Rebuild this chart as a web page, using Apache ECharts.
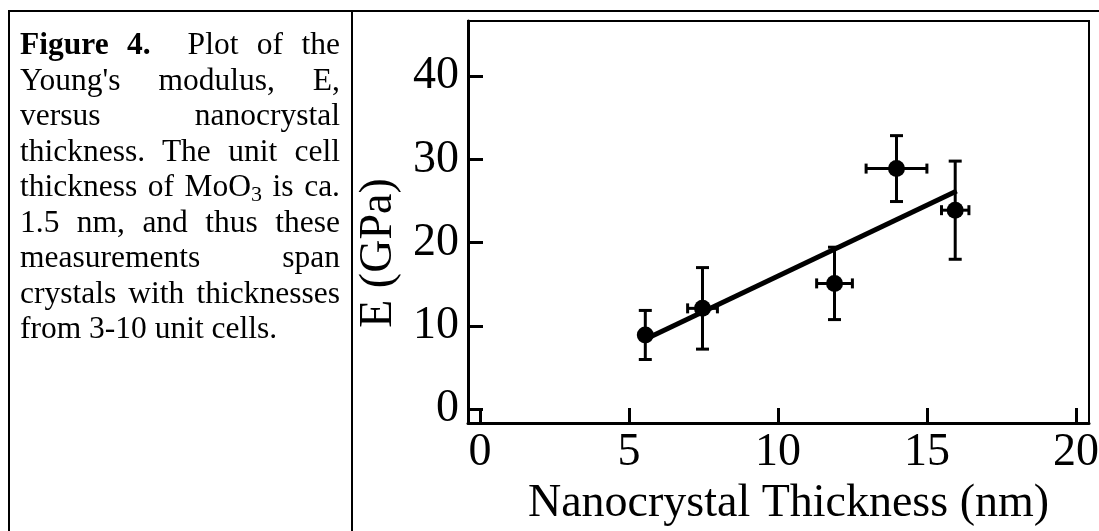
<!DOCTYPE html>
<html>
<head>
<meta charset="utf-8">
<script src="https://cdn.jsdelivr.net/npm/echarts@6/dist/echarts.min.js"></script>
<style>
  html, body { margin:0; padding:0; background:#fff; }
  #chart { position:absolute; left:0; top:0; width:1099px; height:531px; }
  #caption {
    position:absolute; left:8px; top:10px; width:320px; height:509px;
    padding:14px 11px 0 10px;
    border-left:2px solid #000; border-top:2px solid #000; border-right:2px solid #000;
    font-family:"Liberation Serif", "Times New Roman", serif; font-size:31.5px; line-height:35.5px; color:#000;
    background:transparent;
  }
  #caption .ln { text-align:justify; text-align-last:justify; white-space:nowrap; }
  #caption .last { text-align:left; text-align-last:left; white-space:nowrap; }
  #topline { position:absolute; left:352px; top:10px; width:747px; height:2px; background:#000; }
</style>
</head>
<body>
<div id="chart"></div>
<div id="caption">
  <div class="ln"><b>Figure 4.</b>&nbsp; Plot of the</div>
  <div class="ln">Young's modulus, E,</div>
  <div class="ln">versus nanocrystal</div>
  <div class="ln">thickness. The unit cell</div>
  <div class="ln">thickness of MoO<sub style="font-size:22px;line-height:0;vertical-align:-5px;">3</sub> is ca.</div>
  <div class="ln">1.5 nm, and thus these</div>
  <div class="ln">measurements span</div>
  <div class="ln">crystals with thicknesses</div>
  <div class="last">from 3-10 unit cells.</div>
</div>
<div id="topline"></div>
<script>
// ---- data ----
const thickness    = [5.55, 7.47, 11.9, 13.98, 15.95];   // nm
const modulus      = [8.9, 12.1, 15.1, 28.9, 23.9];      // GPa
const modulusErr   = [2.95, 4.9, 4.35, 3.96, 5.9];       // GPa (±)
const thicknessErr = [0, 0.5, 0.6, 1.02, 0.46];          // nm (±)
const fitX = [5.55, 16.0];
const fitY = [8.4, 26.2];
const xTicks = [0, 5, 10, 15, 20];
const yTicks = [0, 10, 20, 30, 40];
const xName = 'Nanocrystal Thickness (nm)';
const yName = 'E (GPa)';

const FONT = '"Liberation Serif", "Times New Roman", serif';
const chart = echarts.init(document.getElementById('chart'), null, {renderer: 'canvas'});

const errData = thickness.map((x, i) => [x, modulus[i], modulusErr[i], thicknessErr[i]]);

const option = {
  backgroundColor: '#fff',
  animation: false,
  grid: {
    left: 468, right: 10, top: 21, bottom: 108,
    show: true, borderColor: '#000', borderWidth: 2,
    outerBoundsMode: 'none'
  },
  xAxis: {
    type: 'value', min: -0.4, max: 20.44,
    name: xName, nameLocation: 'middle', nameGap: 55,
    nameTextStyle: { fontFamily: FONT, fontSize: 46, color: '#000', padding: [0, 0, 0, 20] },
    axisLine: { show: true, onZero: false, lineStyle: { color: '#000', width: 3 } },
    axisTick: { show: true, inside: true, length: 15, lineStyle: { color: '#000', width: 3 }, customValues: xTicks },
    axisLabel: { fontFamily: FONT, fontSize: 46, color: '#000', margin: 7, customValues: xTicks },
    splitLine: { show: false }
  },
  yAxis: {
    type: 'value', min: -1.68, max: 46.64,
    name: yName, nameLocation: 'middle', nameGap: 58,
    nameTextStyle: { fontFamily: FONT, fontSize: 46, color: '#000', padding: [0, 62, 0, 0] },
    axisLine: { show: true, onZero: false, lineStyle: { color: '#000', width: 3 } },
    axisTick: { show: true, inside: true, length: 15, lineStyle: { color: '#000', width: 3 }, customValues: yTicks },
    axisLabel: { fontFamily: FONT, fontSize: 46, color: '#000', margin: 9, customValues: yTicks },
    splitLine: { show: false }
  },
  series: [
    {
      type: 'custom',
      data: errData,
      z: 2,
      renderItem: function (params, api) {
        const x = api.value(0), y = api.value(1), ey = api.value(2), ex = api.value(3);
        const top = api.coord([x, y + ey]);
        const bot = api.coord([x, y - ey]);
        const style = { stroke: '#000', lineWidth: 3, fill: null };
        const capW = 6.5, capH = 5;
        const children = [
          { type: 'line', shape: { x1: top[0], y1: top[1], x2: bot[0], y2: bot[1] }, style },
          { type: 'line', shape: { x1: top[0] - capW, y1: top[1], x2: top[0] + capW, y2: top[1] }, style },
          { type: 'line', shape: { x1: bot[0] - capW, y1: bot[1], x2: bot[0] + capW, y2: bot[1] }, style }
        ];
        if (ex > 0) {
          const l = api.coord([x - ex, y]);
          const r = api.coord([x + ex, y]);
          children.push(
            { type: 'line', shape: { x1: l[0], y1: l[1], x2: r[0], y2: r[1] }, style },
            { type: 'line', shape: { x1: l[0], y1: l[1] - capH, x2: l[0], y2: l[1] + capH }, style },
            { type: 'line', shape: { x1: r[0], y1: r[1] - capH, x2: r[0], y2: r[1] + capH }, style }
          );
        }
        return { type: 'group', children };
      }
    },
    {
      type: 'line',
      data: fitX.map((x, i) => [x, fitY[i]]),
      showSymbol: false, symbol: 'none',
      lineStyle: { color: '#000', width: 5 },
      z: 3
    },
    {
      type: 'scatter',
      data: thickness.map((x, i) => [x, modulus[i]]),
      symbol: 'circle', symbolSize: 17,
      itemStyle: { color: '#000', opacity: 1 },
      z: 4
    }
  ]
};
chart.setOption(option);
</script>
</body>
</html>
